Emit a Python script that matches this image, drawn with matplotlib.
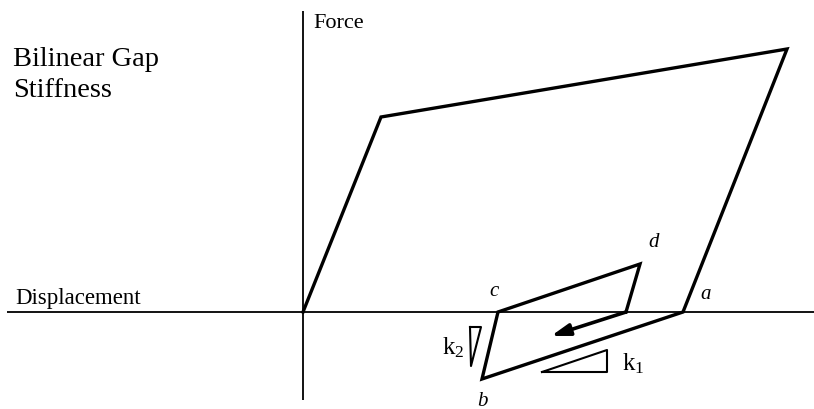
import matplotlib
matplotlib.use("Agg")
import matplotlib.pyplot as plt

plt.rcParams["mathtext.fontset"] = "custom"
plt.rcParams["mathtext.rm"] = "Liberation Serif"
plt.rcParams["mathtext.it"] = "Liberation Serif:italic"

# Data (displacement / force units, origin at the axes crossing)
loop_disp = [0, 78, 484, 380, 179, 195, 337, 323]
loop_force = [0, 195, 263, 0, -67, 0, 48, 0]
arrow_start = (323, 0)
arrow_end = (248, -24)
k1_tri_disp = [239, 304, 304, 239]
k1_tri_force = [-60, -60, -38, -60]
k2_tri_disp = [167, 178, 168, 167]
k2_tri_force = [-15, -15, -54, -15]
point_labels = ["a", "b", "c", "d"]
point_label_disp = [403, 179, 191, 351]
point_label_force = [18, -89, 21, 70]

serif = ["Liberation Serif", "DejaVu Serif"]

fig = plt.figure(figsize=(8.14, 4.10), dpi=100)
ax = fig.add_axes([0, 0, 1, 1])
ax.set_xlim(-303, 511)
ax.set_ylim(-97, 313)
ax.axis("off")

# axes lines
ax.plot([-296, 511], [0, 0], color="black", lw=1.3, solid_capstyle="butt")
ax.plot([0, 0], [-88, 301], color="black", lw=1.3, solid_capstyle="butt")

# hysteresis path
ax.plot(loop_disp, loop_force, color="black", lw=2.4, solid_joinstyle="miter")

# arrow
ax.annotate("", xy=arrow_end, xytext=arrow_start,
            arrowprops=dict(arrowstyle="-|>,head_length=1.1,head_width=0.35",
                            color="black", lw=2.6, shrinkA=0, shrinkB=0))

# stiffness triangles
ax.plot(k1_tri_disp, k1_tri_force, color="black", lw=1.5)
ax.plot(k2_tri_disp, k2_tri_force, color="black", lw=1.5)

# labels
ax.text(10, 285, "Force", family=serif, fontsize=16, ha="left", va="baseline")
ax.text(-290, 247, "Bilinear Gap", family=serif, fontsize=20.5, ha="left", va="baseline")
ax.text(-290, 216, "Stiffness", family=serif, fontsize=20.5, ha="left", va="baseline")
ax.text(-288, 9, "Displacement", family=serif, fontsize=16.5, ha="left", va="baseline")

for lab, x, y in zip(point_labels, point_label_disp, point_label_force):
    ax.text(x, y, lab, family=serif, fontsize=15, style="italic", ha="center", va="center")

ax.text(150, -35, r"$\mathrm{k}_2$", fontsize=18, ha="center", va="center")
ax.text(330, -51, r"$\mathrm{k}_1$", fontsize=18, ha="center", va="center")

fig.savefig("out.png", dpi=100, facecolor="white")
